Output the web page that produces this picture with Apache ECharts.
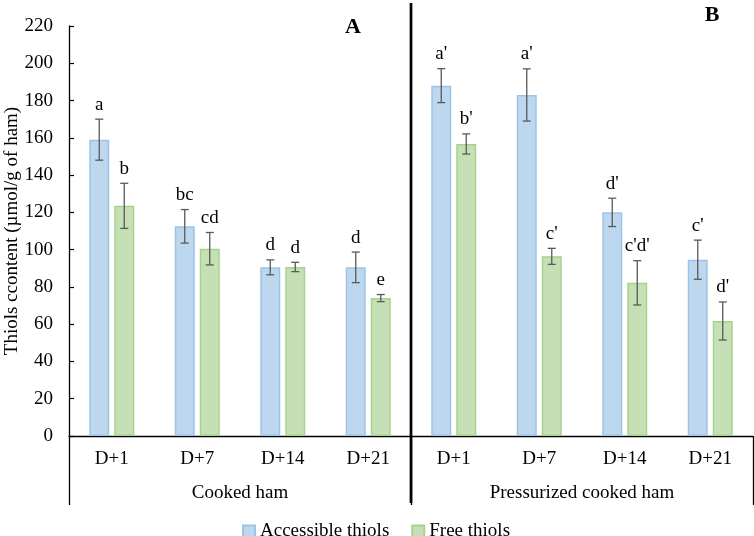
<!DOCTYPE html>
<html>
<head>
<meta charset="utf-8">
<script src="https://cdn.jsdelivr.net/npm/echarts@6/dist/echarts.min.js"></script>
<style>
html,body{margin:0;padding:0;background:#fff;}
#chart{width:754px;height:536px;}
</style>
</head>
<body>
<div id="chart"></div>
<script>
const categories = ['D+1','D+7','D+14','D+21','D+1','D+7','D+14','D+21'];
const groups = ['Cooked ham','Pressurized cooked ham'];
const accessible = [159, 112.5, 90.5, 90.5, 188, 183, 120, 94.6];
const accessibleErr = [11, 9, 4, 8.2, 9.1, 14, 7.6, 10.5];
const accessibleLetters = ['a','bc','d','d',"a'","a'","d'","c'"];
const free = [123.5, 100.5, 90.7, 74, 156.7, 96.4, 82.2, 61.7];
const freeErr = [12.1, 8.7, 2.5, 1.9, 5.4, 4.3, 11.9, 10.2];
const freeLetters = ['b','cd','d','e',"b'","c'","c'd'","d'"];
const yMin = 0, yMax = 220, yStep = 20;
const panelLabels = ['A','B'];

const FONT = "'Liberation Serif', 'Times New Roman', serif";
const chart = echarts.init(document.getElementById('chart'));

function errRender(offset){
  return function(params, api){
    const idx = api.value(0), val = api.value(1), err = api.value(2);
    const letter = api.value(3);
    const top = api.coord([idx, val + err]);
    const bot = api.coord([idx, val - err]);
    const x = top[0] + offset;
    const cap = 4;
    const ls = {stroke:'#595959', lineWidth:1.3};
    return {type:'group', children:[
      {type:'line', shape:{x1:x, y1:top[1], x2:x, y2:bot[1]}, style:ls},
      {type:'line', shape:{x1:x-cap, y1:top[1], x2:x+cap, y2:top[1]}, style:ls},
      {type:'line', shape:{x1:x-cap, y1:bot[1], x2:x+cap, y2:bot[1]}, style:ls},
      {type:'text', style:{text:String(letter), x:x, y:top[1]-5, font:'19px ' + FONT, fill:'#000', align:'center', verticalAlign:'bottom'}}
    ]};
  };
}

const option = {
  animation:false,
  textStyle:{fontFamily:FONT, color:'#000'},
  grid:{left:69, right:1, top:26, bottom:100, containLabel:false, outerBoundsMode:'none'},
  legend:{
    data:['Accessible thiols','Free thiols'],
    left:237, top:517, icon:'rect', itemWidth:12, itemHeight:12, itemGap:22,
    textStyle:{fontFamily:FONT, fontSize:19, color:'#000'}
  },
  xAxis:[
    {type:'category', data:categories, gridIndex:0, position:'bottom',
     axisLine:{lineStyle:{color:'#000', width:1.3}},
     axisTick:{show:false},
     axisLabel:{fontFamily:FONT, fontSize:19, color:'#000', margin:14, interval:0}},
    {type:'category', data:groups, gridIndex:0, position:'bottom',
     axisLine:{show:false},
     axisTick:{show:true, inside:false, length:69, interval:0, lineStyle:{color:'#000', width:1.3}},
     axisLabel:{fontFamily:FONT, fontSize:19, color:'#000', margin:48, interval:0}}
  ],
  yAxis:{
    type:'value', min:yMin, max:yMax, interval:yStep,
    name:'Thiols ccontent (µmol/g of ham)', nameLocation:'middle', nameGap:47,
    nameMoveOverlap:false,
    nameTextStyle:{fontFamily:FONT, fontSize:19, color:'#000'},
    axisLine:{show:true, lineStyle:{color:'#000', width:1.3}},
    axisTick:{show:true, inside:true, length:5, lineStyle:{color:'#000', width:1.2}},
    splitLine:{show:false},
    axisLabel:{fontFamily:FONT, fontSize:19, color:'#000', margin:16}
  },
  series:[
    {name:'Accessible thiols', type:'bar', data:accessible, barWidth:20, barGap:'25%',
     itemStyle:{color:'#BDD7EE', borderColor:'#9DC3E6', borderWidth:1.5}},
    {name:'Free thiols', type:'bar', data:free, barWidth:20, barGap:'25%',
     itemStyle:{color:'#C5E0B4', borderColor:'#A9D18E', borderWidth:1.5}},
    {name:'errA', type:'custom', xAxisIndex:0, yAxisIndex:0, z:5,
     renderItem:errRender(-12.5),
     encode:{x:0, y:1},
     data:accessible.map((v,i)=>[i, v, accessibleErr[i], accessibleLetters[i]])},
    {name:'errF', type:'custom', xAxisIndex:0, yAxisIndex:0, z:5,
     renderItem:errRender(12.5),
     encode:{x:0, y:1},
     data:free.map((v,i)=>[i, v, freeErr[i], freeLetters[i]])}
  ]
};
chart.setOption(option);

const x3 = chart.convertToPixel({xAxisIndex:0}, 3);
const x4 = chart.convertToPixel({xAxisIndex:0}, 4);
const divX = (x3 + x4) / 2;
chart.setOption({
  graphic:[
    {type:'line', shape:{x1:divX, y1:3, x2:divX, y2:503}, style:{stroke:'#000', lineWidth:2.7}, z:100},
    {type:'text', x:353, y:27, style:{text:panelLabels[0], font:'bold 22px ' + FONT, fill:'#000', align:'center', verticalAlign:'middle'}, z:100},
    {type:'text', x:712, y:15, style:{text:panelLabels[1], font:'bold 22px ' + FONT, fill:'#000', align:'center', verticalAlign:'middle'}, z:100}
  ]
});
</script>
</body>
</html>
